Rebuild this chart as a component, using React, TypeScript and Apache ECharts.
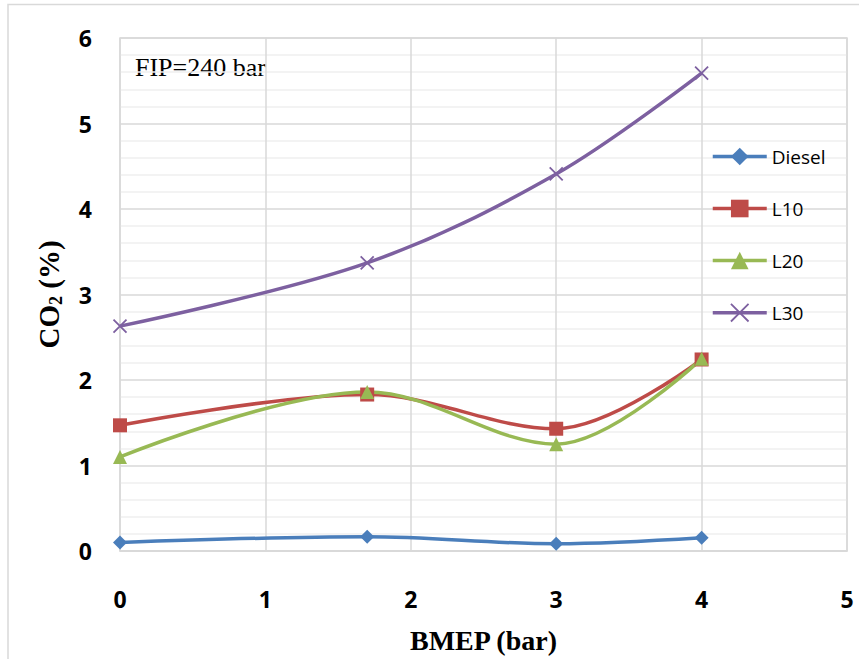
import React, { useEffect, useRef } from "react";
import * as echarts from "echarts";

const xValues = [0, 1.7, 3, 4];
const seriesNames = ["Diesel", "L10", "L20", "L30"];
const diesel = [0.1, 0.166, 0.085, 0.155];
const l10 = [1.47, 1.83, 1.43, 2.24];
const l20 = [1.1, 1.86, 1.25, 2.25];
const l30 = [2.63, 3.37, 4.41, 5.59];
const colors = ["#4A7EBB", "#BE4B48", "#98B954", "#7D60A0"];
const symbols = ["diamond", "rect", "triangle", "path://M0,0L10,10M10,0L0,10"];
const annotation = "FIP=240 bar";

export default function App() {
  const ref = useRef<HTMLDivElement>(null);
  useEffect(() => {
    if (!ref.current) return;
    const chart = echarts.init(ref.current, null, { renderer: "svg" });
    const all = [diesel, l10, l20, l30];
    const series = all.map((vals, i) => ({
      name: seriesNames[i],
      type: "line",
      smooth: 0.35,
      data: vals.map((v, j) => [xValues[j], v]),
      symbol: symbols[i],
      symbolSize: i === 3 ? 13 : 14,
      lineStyle: { color: colors[i], width: 3.5 },
      itemStyle:
        i === 3
          ? { color: colors[i], borderColor: colors[i], borderWidth: 1.8 }
          : { color: colors[i] },
      emphasis: { disabled: true },
    }));
    chart.setOption({
      animation: false,
      backgroundColor: "#ffffff",
      grid: {
        left: 120,
        top: 38,
        width: 727,
        height: 513,
        show: true,
        borderColor: "#d9d9d9",
        borderWidth: 1.5,
      },
      legend: {
        orient: "vertical",
        left: 706,
        top: 142,
        itemWidth: 54,
        itemHeight: 22,
        itemGap: 33,
        data: seriesNames.map((n, i) => ({
          name: n,
          itemStyle: i === 3
            ? { color: colors[i], borderColor: colors[i], borderWidth: 1.8 }
            : { color: colors[i] },
          lineStyle: { color: colors[i], width: 3.5 },
        })),
        textStyle: {
          fontFamily: "Open Sans",
          fontSize: 19,
          color: "#000",
          lineHeight: 18,
        },
      },
      xAxis: {
        type: "value",
        min: 0,
        max: 5,
        interval: 1,
        name: "BMEP (bar)",
        nameLocation: "middle",
        nameGap: 75,
        nameTextStyle: {
          fontFamily: "Liberation Serif",
          fontWeight: "bold",
          fontSize: 28,
          color: "#000",
        },
        axisLine: { show: true, lineStyle: { color: "#d9d9d9", width: 1.5 } },
        axisTick: { show: false },
        axisLabel: {
          margin: 36,
          fontFamily: "Open Sans",
          fontWeight: "bold",
          fontSize: 23,
          color: "#000",
        },
        splitLine: { show: true, lineStyle: { color: "#d9d9d9", width: 1.5 } },
      },
      yAxis: {
        type: "value",
        min: 0,
        max: 6,
        interval: 1,
        name: "{a|CO}{b|2}{a| (%)}",
        nameLocation: "middle",
        nameGap: 55,
        nameRotate: 90,
        nameTextStyle: {
          rich: {
            a: {
              fontFamily: "Liberation Serif",
              fontWeight: "bold",
              fontSize: 29,
              color: "#000",
              lineHeight: 32,
            },
            b: {
              fontFamily: "Liberation Serif",
              fontWeight: "bold",
              fontSize: 18,
              color: "#000",
              lineHeight: 18,
              verticalAlign: "bottom",
            },
          },
        },
        axisLine: { show: false },
        axisTick: { show: false },
        axisLabel: {
          margin: 28,
          fontFamily: "Open Sans",
          fontWeight: "bold",
          fontSize: 23,
          color: "#000",
        },
        splitLine: { show: true, lineStyle: { color: "#d9d9d9", width: 1.5 } },
        minorTick: { show: false, splitNumber: 5 },
        minorSplitLine: { show: true, lineStyle: { color: "#efefef", width: 1.5 } },
      },
      graphic: [
        {
          type: "rect",
          silent: true,
          shape: { x: 8, y: 4.5, width: 900, height: 700 },
          style: { fill: "none", stroke: "#d9d9d9", lineWidth: 1.5 },
        },
        {
          type: "text",
          left: 135,
          top: 54,
          style: {
            text: annotation,
            fontFamily: "Liberation Serif",
            fontSize: 26,
            fill: "#000",
          },
        },
      ],
      series,
    });
    return () => chart.dispose();
  }, []);
  return (
    <div
      ref={ref}
      style={{ position: "fixed", left: 0, top: 0, width: 859, height: 659 }}
    />
  );
}
